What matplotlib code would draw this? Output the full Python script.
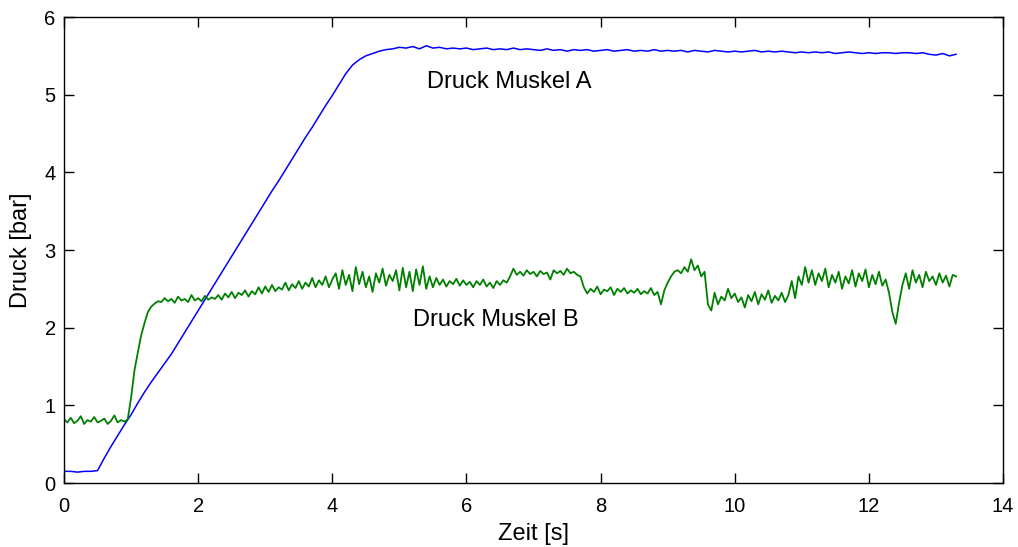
import numpy as np
import matplotlib
matplotlib.use("Agg")
import matplotlib.pyplot as plt

plt.rcParams['font.family'] = ['Liberation Sans', 'DejaVu Sans']

# Pressure in muscle A, sampled every 0.1 s
dt_a = 0.1
druck_a = [
    0.15, 0.15, 0.14, 0.15, 0.15, 0.16, 0.32, 0.47, 0.61, 0.75,
    0.88, 1.03, 1.17, 1.30, 1.42, 1.54, 1.66, 1.80, 1.94, 2.08,
    2.22, 2.36, 2.50, 2.64, 2.78, 2.92, 3.06, 3.20, 3.34, 3.48,
    3.62, 3.76, 3.89, 4.03, 4.17, 4.31, 4.45, 4.58, 4.72, 4.86,
    4.99, 5.13, 5.27, 5.38, 5.45, 5.50, 5.53, 5.56, 5.58, 5.59,
    5.61, 5.60, 5.62, 5.59, 5.63, 5.60, 5.61, 5.59, 5.60, 5.59,
    5.60, 5.58, 5.59, 5.60, 5.58, 5.59, 5.58, 5.60, 5.58, 5.59,
    5.58, 5.57, 5.59, 5.57, 5.58, 5.56, 5.58, 5.57, 5.58, 5.56,
    5.57, 5.58, 5.56, 5.57, 5.58, 5.56, 5.57, 5.56, 5.58, 5.56,
    5.57, 5.56, 5.57, 5.55, 5.57, 5.56, 5.55, 5.57, 5.56, 5.55,
    5.56, 5.55, 5.56, 5.57, 5.55, 5.56, 5.55, 5.56, 5.55, 5.54,
    5.55, 5.54, 5.55, 5.54, 5.55, 5.53, 5.54, 5.55, 5.54, 5.53,
    5.54, 5.53, 5.54, 5.54, 5.53, 5.54, 5.54, 5.53, 5.54, 5.52,
    5.51, 5.53, 5.50, 5.52,
]

# Pressure in muscle B, sampled every 0.05 s
dt_b = 0.05
druck_b = [
    # 0.00 - 0.95
    0.82, 0.78, 0.84, 0.77, 0.80, 0.86, 0.76, 0.81, 0.79, 0.85,
    0.78, 0.80, 0.83, 0.76, 0.80, 0.87, 0.78, 0.81, 0.79, 0.82,
    # 1.00 - 1.40
    1.10, 1.45, 1.68, 1.90, 2.06, 2.20, 2.27, 2.31, 2.34,
    # 1.45 - 2.25
    2.33, 2.38, 2.34, 2.37, 2.32, 2.40, 2.35, 2.37, 2.33, 2.42,
    2.35, 2.38, 2.34, 2.41, 2.36, 2.39, 2.37,
    # 2.30 - 4.00
    2.42, 2.36, 2.44, 2.39, 2.46, 2.38, 2.45, 2.42, 2.48, 2.40,
    2.47, 2.43, 2.52, 2.44, 2.53, 2.46, 2.55, 2.47, 2.52, 2.49,
    2.58, 2.48, 2.56, 2.51, 2.60, 2.50, 2.58, 2.53, 2.64, 2.52,
    2.61, 2.55, 2.66, 2.52, 2.62,
    # 4.05 - 5.40
    2.70, 2.50, 2.74, 2.55, 2.68, 2.47, 2.78, 2.56, 2.72, 2.52,
    2.66, 2.46, 2.70, 2.58, 2.76, 2.54, 2.68, 2.60, 2.74, 2.48,
    2.77, 2.52, 2.72, 2.47, 2.75, 2.55, 2.79, 2.50,
    # 5.45 - 6.60
    2.66, 2.52, 2.64, 2.55, 2.62, 2.53, 2.60, 2.56, 2.63, 2.54,
    2.61, 2.55, 2.59, 2.52, 2.60, 2.55, 2.62, 2.53, 2.58, 2.51,
    2.60, 2.55, 2.61, 2.58,
    # 6.65 - 7.70
    2.66, 2.76, 2.68, 2.72, 2.67, 2.74, 2.69, 2.72, 2.66, 2.73,
    2.69, 2.71, 2.62, 2.74, 2.70, 2.73, 2.68, 2.76, 2.70, 2.72,
    2.68, 2.66,
    # 7.75 - 8.95
    2.52, 2.44, 2.50, 2.46, 2.53, 2.43, 2.49, 2.47, 2.52, 2.42,
    2.50, 2.46, 2.51, 2.44, 2.48, 2.45, 2.50, 2.43, 2.47, 2.44,
    2.51, 2.42, 2.46, 2.30, 2.48,
    # 9.00 - 9.55
    2.58, 2.66, 2.72, 2.74, 2.70, 2.78, 2.72, 2.88, 2.74, 2.80,
    2.66, 2.72,
    # 9.60 - 10.80
    2.30, 2.22, 2.45, 2.30, 2.40, 2.35, 2.50, 2.38, 2.44, 2.33,
    2.39, 2.26, 2.42, 2.34, 2.46, 2.30, 2.43, 2.36, 2.48, 2.32,
    2.41, 2.35, 2.45, 2.33, 2.42,
    # 10.85 - 10.95
    2.60, 2.38, 2.66,
    # 11.00 - 12.25
    2.55, 2.78, 2.58, 2.74, 2.55, 2.70, 2.60, 2.76, 2.52, 2.68,
    2.58, 2.72, 2.50, 2.66, 2.57, 2.74, 2.53, 2.70, 2.60, 2.75,
    2.52, 2.68, 2.56, 2.72, 2.54, 2.62,
    # 12.30 - 12.50
    2.45, 2.20, 2.05, 2.32, 2.55,
    # 12.55 - 13.30
    2.70, 2.50, 2.74, 2.58, 2.68, 2.52, 2.72, 2.60, 2.66, 2.55,
    2.70, 2.58, 2.67, 2.53, 2.68, 2.66,
]

label_a = "Druck Muskel A"
label_b = "Druck Muskel B"
xticks = [0, 2, 4, 6, 8, 10, 12, 14]
yticks = [0, 1, 2, 3, 4, 5, 6]

t_a = np.arange(len(druck_a)) * dt_a
t_b = np.arange(len(druck_b)) * dt_b

fig = plt.figure(figsize=(10.18, 5.47), dpi=100)
ax = fig.add_axes([0.0629, 0.1170, 0.9224, 0.8519])

ax.plot(t_a, druck_a, color=(0, 0, 1), lw=1.1)
ax.plot(t_b, druck_b, color=(0, 0.5, 0), lw=1.3)

text_size = 17
ax.text(5.41, 5.16, label_a, fontsize=text_size, ha='left', va='center')
ax.text(5.20, 2.10, label_b, fontsize=text_size, ha='left', va='center')

ax.set_xlim(0, 14)
ax.set_ylim(0, 6)
ax.set_xticks(xticks)
ax.set_yticks(yticks)
ax.tick_params(direction='in', length=7, width=1.0, top=True, right=True,
               labelsize=14.5, colors='black')
ax.tick_params(axis='x', pad=10)
ax.tick_params(axis='y', pad=6)
for s in ax.spines.values():
    s.set_linewidth(1.0)

ax.set_xlabel("Zeit [s]", fontsize=text_size)
ax.xaxis.label.set_va('center')
ax.xaxis.set_label_coords(0.5, -0.110)
ax.set_ylabel("Druck [bar]", fontsize=text_size)
ax.yaxis.label.set_va('center')
ax.yaxis.set_label_coords(-0.046, 0.5)

fig.savefig("out.png", dpi=100)
